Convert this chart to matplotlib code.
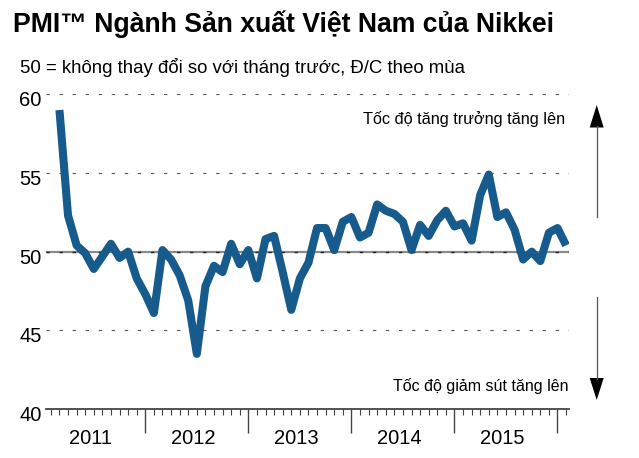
import matplotlib
matplotlib.use("Agg")
import matplotlib.pyplot as plt
import matplotlib.transforms as mtransforms
from matplotlib.patches import Polygon
from matplotlib.lines import Line2D
import numpy as np

plt.rcParams['font.family'] = ['Liberation Sans', 'DejaVu Sans']
plt.rcParams['lines.scale_dashes'] = False

# ---- data (monthly PMI, Mar 2011 .. Feb 2016) ----
start_year = 2011
start_month = 3
pmi = [
    59.0, 52.3, 50.4, 49.9, 48.9, 49.7, 50.5, 49.6, 50.0, 48.3,          # 2011 Mar-Dec
    47.3, 46.1, 50.1, 49.5, 48.5, 46.9, 43.5, 47.8, 49.1, 48.7, 50.5, 49.2,  # 2012
    50.1, 48.3, 50.8, 51.0, 48.7, 46.3, 48.3, 49.3, 51.5, 51.5, 50.1, 51.9,  # 2013
    52.2, 50.9, 51.2, 53.0, 52.6, 52.4, 51.9, 50.1, 51.7, 51.0, 52.0, 52.6,  # 2014
    51.6, 51.8, 50.7, 53.6, 54.9, 52.2, 52.5, 51.4, 49.5, 50.0, 49.4, 51.2,  # 2015
    51.5, 50.4,                                                          # 2016 Jan-Feb
]
years = [2011, 2012, 2013, 2014, 2015]
y_ticks = [40, 45, 50, 55, 60]
title = "PMI™ Ngành Sản xuất Việt Nam của Nikkei"
subtitle = "50 = không thay đổi so với tháng trước, Đ/C theo mùa"
up_label = "Tốc độ tăng trưởng tăng lên"
down_label = "Tốc độ giảm sút tăng lên"

W, H = 639, 458
fig = plt.figure(figsize=(W / 100, H / 100), dpi=100)

def fx(px):
    return px / W

def fy(py):
    return 1 - py / H

ax_left, ax_right, ax_top, ax_bottom = 45.7, 569.5, 94.3, 409.0
ax = fig.add_axes([fx(ax_left), fy(ax_bottom), fx(ax_right - ax_left), (ax_bottom - ax_top) / H])

# month index: Jan 2011 = 0
x = np.arange(len(pmi)) + (start_month - 1)
ax.set_xlim(0.4, 61.4)
ax.set_ylim(40, 60)

# grid lines
for yv in [45, 55, 60]:
    ax.axhline(yv, color='#555555', lw=0.8, linestyle=(0, (2.4, 7.0)), zorder=1)
ax.axhline(50, color='#8a8a8a', lw=1.6, zorder=1)
ax.axhline(50, color='#222222', lw=1.0, linestyle=(0, (2.4, 7.0)), zorder=1.5)

ax.plot(x, pmi, color='#175A8C', lw=5.8, solid_joinstyle='round',
        solid_capstyle='butt', zorder=3)

# spines
for s in ['left', 'right', 'top']:
    ax.spines[s].set_visible(False)
ax.spines['bottom'].set_color('#444444')
ax.spines['bottom'].set_linewidth(1.3)

# y ticks
ax.set_yticks(y_ticks)
ax.set_yticklabels([str(v) for v in y_ticks])
ax.tick_params(axis='y', length=0, pad=3, labelsize=14.5, labelcolor='black')
off = mtransforms.ScaledTranslation(0, -4.5 / 100, fig.dpi_scale_trans)
for lab in ax.get_yticklabels():
    lab.set_transform(lab.get_transform() + off)

# x ticks
major = [(y - 2011) * 12 for y in years[1:]] + [60]
ax.set_xticks(major)
ax.set_xticklabels([''] * len(major))
ax.set_xticks(np.arange(1, 62), minor=True)
ax.tick_params(axis='x', which='major', length=17.5, width=1.0, color='#444444', direction='out')
ax.tick_params(axis='x', which='minor', length=4.3, width=0.8, color='#444444', direction='out')
ax.xaxis.get_major_ticks()[-1].tick1line.set_color('#9a9a9a')

for yr in years:
    xpos = (yr - 2011) * 12 + 5.6
    t = ax.text(xpos, 0, str(yr), transform=ax.get_xaxis_transform(),
                ha='center', va='center', fontsize=14.5, color='black')
    t.set_transform(ax.get_xaxis_transform() +
                    mtransforms.ScaledTranslation(0, -29 / 100, fig.dpi_scale_trans))

# texts with fitted widths
fig.canvas.draw()
renderer = fig.canvas.get_renderer()

def fit_text(s, left, right, baseline, size, ha='left', **kw):
    t = fig.text(fx(left if ha == 'left' else right), fy(baseline), s,
                 ha=ha, va='baseline', fontsize=size, **kw)
    bb = t.get_window_extent(renderer)
    t.set_fontsize(size * (right - left) / bb.width)
    return t

fit_text(title, 13, 556, 32, 20, fontweight='bold', color='black')
fit_text(subtitle, 20, 469, 73, 12, color='black')
fit_text(up_label, 363, 565, 124, 11, ha='right', color='black')
fit_text(down_label, 393, 568.5, 391, 11, ha='right', color='black')

# arrows at right
ax_x = 596.7
fig.add_artist(Line2D([fx(ax_x), fx(ax_x)], [fy(216.7), fy(126)], color='#555555', lw=0.9))
fig.add_artist(Polygon([[fx(ax_x), fy(105)], [fx(ax_x - 7), fy(127.5)], [fx(ax_x + 7), fy(127.5)]],
                       closed=True, facecolor='black', edgecolor='none'))
fig.add_artist(Line2D([fx(ax_x), fx(ax_x)], [fy(296.7), fy(379)], color='#555555', lw=0.9))
fig.add_artist(Polygon([[fx(ax_x), fy(400)], [fx(ax_x - 7), fy(378)], [fx(ax_x + 7), fy(378)]],
                       closed=True, facecolor='black', edgecolor='none'))

fig.savefig('out.png', dpi=100)
